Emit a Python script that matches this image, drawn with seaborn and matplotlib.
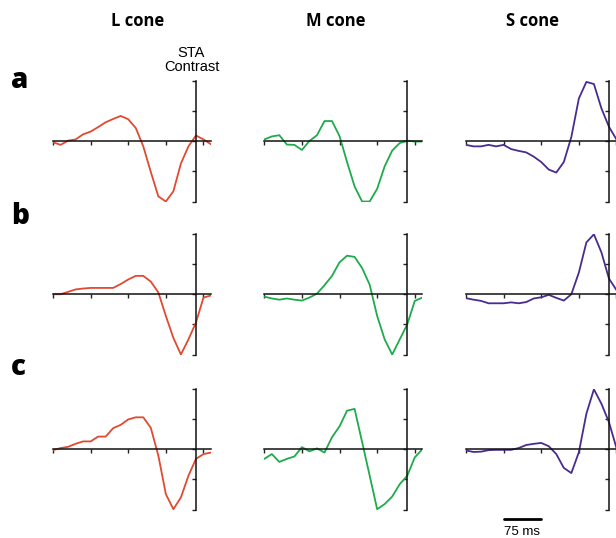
import numpy as np
import pandas as pd
import seaborn as sns
import matplotlib.pyplot as plt

# time axis: 15 ms samples, spike at 0
time_ms = list(range(-285, 31, 15))

# STA contrast, rows a/b/c
L_a = [-0.03, -0.12, 0.02, 0.06, 0.23, 0.32, 0.47, 0.63, 0.74, 0.84, 0.73,
       0.44, -0.17, -1.02, -1.83, -2.0, -1.66, -0.74, -0.17, 0.19, 0.06, -0.1]
M_a = [0.06, 0.16, 0.2, -0.11, -0.12, -0.29, 0.01, 0.2, 0.67, 0.67, 0.17,
       -0.69, -1.5, -2.0, -2.0, -1.58, -0.83, -0.31, -0.06, 0.02, -0.01, -0.01]
S_a = [-0.12, -0.17, -0.17, -0.12, -0.17, -0.12, -0.26, -0.32, -0.37, -0.51, -0.69,
       -0.94, -1.04, -0.69, 0.14, 1.42, 1.97, 1.9, 1.09, 0.48, 0.06, -0.3]

L_b = [0.0, 0.0, 0.08, 0.16, 0.19, 0.21, 0.21, 0.21, 0.21, 0.34, 0.49,
       0.61, 0.61, 0.42, 0.06, -0.72, -1.45, -2.0, -1.5, -0.94, -0.11, -0.04]
M_b = [-0.08, -0.14, -0.18, -0.14, -0.18, -0.21, -0.11, 0.02, 0.3, 0.61, 1.06,
       1.28, 1.24, 0.87, 0.32, -0.72, -1.5, -2.0, -1.5, -1.0, -0.22, -0.11]
S_b = [-0.13, -0.18, -0.22, -0.3, -0.3, -0.3, -0.27, -0.3, -0.26, -0.14, -0.1,
       -0.02, -0.12, -0.21, 0.0, 0.72, 1.72, 1.99, 1.39, 0.52, 0.14, -0.1]

L_c = [-0.03, 0.04, 0.08, 0.18, 0.26, 0.26, 0.42, 0.42, 0.7, 0.81, 0.99,
       1.06, 1.06, 0.71, -0.21, -1.49, -1.99, -1.6, -0.88, -0.32, -0.16, -0.11]
M_c = [-0.32, -0.16, -0.42, -0.32, -0.24, 0.07, -0.07, 0.03, -0.11, 0.4, 0.76,
       1.28, 1.34, 0.24, -0.87, -1.99, -1.82, -1.57, -1.16, -0.88, -0.27, 0.0]
S_c = [-0.04, -0.09, -0.08, -0.03, -0.02, -0.02, -0.02, 0.04, 0.14, 0.18, 0.21,
       0.1, -0.16, -0.62, -0.79, -0.1, 1.18, 1.99, 1.51, 0.9, 0.04, -0.3]

cones = ["L cone", "M cone", "S cone"]
rows = ["a", "b", "c"]
colors = {"L cone": "#e04a30", "M cone": "#1faa4c", "S cone": "#4a2b8e"}
data = {("a", "L cone"): L_a, ("a", "M cone"): M_a, ("a", "S cone"): S_a,
        ("b", "L cone"): L_b, ("b", "M cone"): M_b, ("b", "S cone"): S_b,
        ("c", "L cone"): L_c, ("c", "M cone"): M_c, ("c", "S cone"): S_c}

sns.set_style("white")
plt.rcParams['font.family'] = ['Liberation Sans', 'DejaVu Sans']
plt.rcParams['text.color'] = 'black'

W, H = 616, 538
fig = plt.figure(figsize=(W / 100, H / 100), dpi=100)

col_left = [53, 264.3, 466]
row_top = [81, 234, 389]
ax_w, ax_h = 158, 120.5

axes = {}
for r, top in zip(rows, row_top):
    for c, left in zip(cones, col_left):
        ax = fig.add_axes([left / W, 1 - (top + ax_h) / H, ax_w / W, ax_h / H])
        df = pd.DataFrame({"time": time_ms, "sta": data[(r, c)]})
        sns.lineplot(data=df, x="time", y="sta", ax=ax, color=colors[c], lw=1.3)
        ax.set_xlim(-285, 30)
        ax.set_ylim(-2, 2)
        for s in ["top", "right"]:
            ax.spines[s].set_visible(False)
        ax.spines["left"].set_position(("data", 0))
        ax.spines["bottom"].set_position(("data", 0))
        for s in ["left", "bottom"]:
            ax.spines[s].set_linewidth(1.1)
            ax.spines[s].set_color("#111111")
        ax.set_xticks([-285, -210, -135, -60, 15])
        ax.set_yticks([-2, -1, 0, 1, 2])
        ax.tick_params(direction="out", length=3, width=1, color="#222222",
                       bottom=True, left=True,
                       labelbottom=False, labelleft=False)
        ax.set_xlabel("")
        ax.set_ylabel("")
        ax.patch.set_alpha(0)
        axes[(r, c)] = ax

# column titles
for c, x in zip(cones, [138, 335.5, 532]):
    fig.text(x / W, 1 - 21 / H, c, ha="center", va="center", fontsize=12,
             fontweight="bold", family=["Open Sans", "DejaVu Sans"])

# row letters
for r, yb in zip(rows, [88, 224, 375]):
    fig.text(11 / W, 1 - yb / H, r, ha="left", va="baseline", fontsize=20,
             fontweight="heavy", family=["Open Sans", "DejaVu Sans"])

fig.text(191 / W, 1 - 53 / H, "STA", ha="center", va="center", fontsize=10.5)
fig.text(192 / W, 1 - 67 / H, "Contrast", ha="center", va="center", fontsize=10.5)

# 75 ms scale bar
ax = axes[("c", "S cone")]
ax.plot([-210, -135], [-2.3, -2.3], color="black", lw=2, clip_on=False)
ax.text(-172.5, -2.75, "75 ms", ha="center", va="center", fontsize=9.5)

fig.savefig("out.png", dpi=100)
